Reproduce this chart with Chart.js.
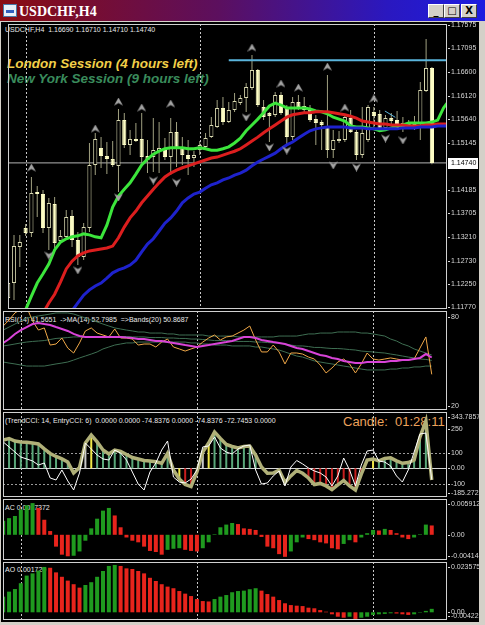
<!DOCTYPE html>
<html>
<head>
<meta charset="utf-8">
<script src="https://cdn.jsdelivr.net/npm/chart.js@4/dist/chart.umd.min.js"></script>
<style>
  body { margin: 0; background: #d4d0c8; }
  #win { position: relative; width: 485px; height: 625px; overflow: hidden; background: #d4d0c8;
         font-family: "Liberation Sans", Arial, sans-serif; }
  #title { position: absolute; left: 0; top: 0; width: 485px; height: 21px;
           background: linear-gradient(to right, #8a0c12 0%, #5c0f5e 45%, #2a18c0 80%, #1c1ce0 100%); }
  #title .txt { position: absolute; left: 19px; top: 4px; color: #fff; line-height: 14px;
                font: bold 14px "Liberation Serif", serif; }
  #icon { position: absolute; left: 3px; top: 4px; width: 12px; height: 11px; background: #e8f0f8;
          border: 1px solid #4878a8; }
  #icon i { position: absolute; left: 2px; top: 5px; width: 8px; height: 3px; background: #3060c0; }
  .btn { position: absolute; top: 4px; width: 14px; height: 12px; background: #d4d0c8; color: #000;
         border: 1px solid; border-color: #fff #404040 #404040 #fff;
         font: bold 10px "DejaVu Sans", sans-serif; text-align: center; line-height: 12px; }
  #board { position: absolute; left: 1px; top: 22px; width: 478px; height: 600px; background: #000; }
  canvas { position: absolute; }
  .lbl { position: absolute; white-space: pre; font-size: 7px; line-height: 7px; color: #e8e8e8; }
  .big { position: absolute; white-space: pre; font: italic bold 13.5px "Liberation Sans", Arial, sans-serif; line-height: 13px; }
</style>
</head>
<body>
<div id="win">
  <div id="title"><div id="icon"><i></i></div><div class="txt">USDCHF,H4</div>
    <div class="btn" style="left:428px">_</div>
    <div class="btn" style="left:444px">&#9633;</div>
    <div class="btn" style="left:461px">X</div>
  </div>
  <div id="board"></div>
  <div class="lbl" style="left:5px;top:26px">USDCHF,H4  1.16690 1.16710 1.14710 1.14740</div>
  <div class="big" style="left:7px;top:57px;color:#f2cf48">London Session (4 hours left)</div>
  <div class="big" style="left:7px;top:72px;color:#3a8c5c">New York Session (9 hours left)</div>
  <div class="lbl" style="left:5px;top:316px">RSI(14) 41.5651  -&gt;MA(14) 52.7985  =&gt;Bands(20) 50.8687</div>
  <div class="lbl" style="left:5px;top:417px">(TrendCCI: 14, EntryCCI: 6)  0.0000 0.0000 -74.8376 0.0000 -74.8376 -72.7453 0.0000</div>
  <div class="big" style="left:343px;top:415px;color:#eca25c;font-style:normal;font-weight:normal;font-size:13px">Candle:  01:28:11</div>
  <div class="lbl" style="left:5px;top:504px">AC 0.0017372</div>
  <div class="lbl" style="left:5px;top:566px">AO 0.001720</div>
</div>
<script>
// ---- price candles (H4 bars, oldest first) ----
const opens = [1.11962, 1.12271, 1.13011, 1.13401, 1.13299, 1.14142, 1.14100, 1.13401, 1.13895, 1.13134,
  1.13216, 1.13648, 1.13155, 1.12805, 1.13401, 1.14697, 1.15046, 1.14882, 1.14820, 1.14676,
  1.15622, 1.15108, 1.15231, 1.15231, 1.14882, 1.14861, 1.14964, 1.15046, 1.14861, 1.15375,
  1.15046, 1.14902, 1.14841, 1.15005, 1.15067, 1.15272, 1.15478, 1.15868, 1.15581, 1.15827,
  1.15971, 1.16074, 1.16280, 1.16650, 1.15889, 1.15766, 1.15725, 1.16136, 1.15889, 1.15272,
  1.15992, 1.15910, 1.15868, 1.15642, 1.15581, 1.15498, 1.15005, 1.15190, 1.15211, 1.15663,
  1.15375, 1.14902, 1.15211, 1.15786, 1.15745, 1.15457, 1.15663, 1.15622, 1.15478, 1.15478,
  1.15581, 1.15560, 1.16218, 1.16690];
const highs = [1.12641, 1.13257, 1.13257, 1.13484, 1.14450, 1.14265, 1.14183, 1.14018, 1.14039, 1.13360,
  1.13771, 1.13771, 1.13319, 1.13504, 1.15149, 1.15355, 1.15272, 1.15169, 1.15190, 1.15848,
  1.15766, 1.15416, 1.15560, 1.15766, 1.15211, 1.15663, 1.15581, 1.15252, 1.15663, 1.15581,
  1.15272, 1.15211, 1.14985, 1.15190, 1.15355, 1.15683, 1.16033, 1.16095, 1.15992, 1.16177,
  1.16136, 1.16382, 1.16958, 1.16670, 1.16033, 1.15786, 1.16197, 1.16197, 1.15930, 1.16095,
  1.16136, 1.16095, 1.15930, 1.15725, 1.15622, 1.16547, 1.15416, 1.15396, 1.15745, 1.15827,
  1.15416, 1.15889, 1.15930, 1.15889, 1.15827, 1.15725, 1.15766, 1.15807, 1.15683, 1.15622,
  1.15704, 1.16403, 1.17287, 1.16710];
const lows = [1.11859, 1.11921, 1.12600, 1.13237, 1.13216, 1.13628, 1.13299, 1.12949, 1.12990, 1.13093,
  1.13155, 1.13011, 1.12641, 1.12743, 1.13319, 1.14491, 1.14635, 1.14512, 1.14655, 1.14142,
  1.15046, 1.14902, 1.15169, 1.14738, 1.14532, 1.14553, 1.14532, 1.14799, 1.14491, 1.14655,
  1.14697, 1.14491, 1.14655, 1.14902, 1.15046, 1.15252, 1.15457, 1.15519, 1.15560, 1.15786,
  1.15930, 1.15786, 1.16239, 1.15889, 1.15622, 1.15169, 1.15683, 1.15725, 1.15108, 1.15211,
  1.15827, 1.15766, 1.15581, 1.15108, 1.15005, 1.14841, 1.14841, 1.15149, 1.15169, 1.15355,
  1.14799, 1.14841, 1.15169, 1.15478, 1.15375, 1.15416, 1.15519, 1.15416, 1.15375, 1.15457,
  1.15416, 1.15211, 1.16197, 1.14710];
const closes = [1.12271, 1.13031, 1.13114, 1.13299, 1.14121, 1.14100, 1.13401, 1.13915, 1.13093, 1.13237,
  1.13628, 1.13155, 1.12805, 1.13422, 1.14697, 1.15231, 1.14882, 1.14820, 1.14697, 1.15622,
  1.15108, 1.15231, 1.15190, 1.14861, 1.14799, 1.15005, 1.15046, 1.14861, 1.15375, 1.15046,
  1.14902, 1.14820, 1.14902, 1.15108, 1.15252, 1.15519, 1.15868, 1.15581, 1.15827, 1.16012,
  1.16074, 1.16300, 1.16650, 1.15930, 1.15683, 1.15704, 1.16136, 1.15766, 1.15272, 1.15992,
  1.15889, 1.15827, 1.15622, 1.15560, 1.15519, 1.15005, 1.15211, 1.15231, 1.15683, 1.15375,
  1.14902, 1.15355, 1.15889, 1.15704, 1.15416, 1.15663, 1.15601, 1.15457, 1.15560, 1.15540,
  1.15519, 1.16239, 1.16690, 1.14740];

// alligator lines (shifted forward, so they run past the last bar)
const lips = [1.1100, 1.1120, 1.1147, 1.1172, 1.1200, 1.1227, 1.1246, 1.1266, 1.1295, 1.1311,
  1.1318, 1.1322, 1.1324, 1.1328, 1.1326, 1.1322, 1.1320, 1.1346, 1.1383, 1.1406,
  1.1420, 1.1433, 1.1451, 1.1470, 1.1482, 1.1492, 1.1498, 1.1503, 1.1505, 1.1505,
  1.1505, 1.1503, 1.1503, 1.1505, 1.1503, 1.1500, 1.1500, 1.1503, 1.1507, 1.1515,
  1.1525, 1.1540, 1.1552, 1.1564, 1.1577, 1.1591, 1.1597, 1.1593, 1.1587, 1.1587,
  1.1587, 1.1587, 1.1585, 1.1581, 1.1579, 1.1575, 1.1568, 1.1564, 1.1560, 1.1550,
  1.1548, 1.1548, 1.1546, 1.1544, 1.1540, 1.1542, 1.1546, 1.1550, 1.1552, 1.1556,
  1.1556, 1.1556, 1.1556, 1.1558, 1.1562, 1.1587, 1.1603];
const teeth = [1.1069, 1.1089, 1.1106, 1.1122, 1.1139, 1.1153, 1.1165, 1.1186, 1.1204, 1.1229,
  1.1256, 1.1272, 1.1283, 1.1289, 1.1293, 1.1295, 1.1297, 1.1299, 1.1303, 1.1320,
  1.1342, 1.1361, 1.1375, 1.1392, 1.1406, 1.1420, 1.1433, 1.1445, 1.1453, 1.1459,
  1.1464, 1.1468, 1.1472, 1.1476, 1.1480, 1.1484, 1.1486, 1.1490, 1.1494, 1.1498,
  1.1503, 1.1511, 1.1519, 1.1527, 1.1536, 1.1544, 1.1552, 1.1560, 1.1568, 1.1573,
  1.1575, 1.1577, 1.1577, 1.1579, 1.1579, 1.1579, 1.1577, 1.1575, 1.1573, 1.1570,
  1.1566, 1.1560, 1.1558, 1.1556, 1.1554, 1.1554, 1.1552, 1.1552, 1.1552, 1.1550,
  1.1550, 1.1550, 1.1552, 1.1552, 1.1554, 1.1554, 1.1554];
const jaw = [1.1028, 1.1044, 1.1059, 1.1073, 1.1089, 1.1104, 1.1118, 1.1130, 1.1141, 1.1151,
  1.1159, 1.1170, 1.1186, 1.1202, 1.1213, 1.1221, 1.1227, 1.1237, 1.1248, 1.1254,
  1.1258, 1.1264, 1.1274, 1.1291, 1.1307, 1.1318, 1.1334, 1.1350, 1.1361, 1.1375,
  1.1392, 1.1402, 1.1410, 1.1414, 1.1422, 1.1429, 1.1433, 1.1439, 1.1443, 1.1449,
  1.1453, 1.1459, 1.1468, 1.1476, 1.1482, 1.1488, 1.1494, 1.1503, 1.1511, 1.1517,
  1.1525, 1.1533, 1.1540, 1.1544, 1.1546, 1.1548, 1.1548, 1.1548, 1.1548, 1.1546,
  1.1546, 1.1546, 1.1544, 1.1544, 1.1544, 1.1544, 1.1544, 1.1544, 1.1546, 1.1546,
  1.1546, 1.1548, 1.1548, 1.1548, 1.1550, 1.1550, 1.1550];

// fractal arrows
const fractalUpBars = [4, 15, 19, 23, 28, 42, 47, 50, 55, 58, 63];
const fractalUpPrices = [1.14635, 1.15437, 1.15992, 1.15868, 1.15951, 1.17102, 1.16362, 1.16280, 1.16711, 1.15868, 1.16054];
const fractalDownBars = [7, 12, 19, 25, 29, 41, 45, 48, 56, 60, 65, 68];
const fractalDownPrices = [1.12846, 1.12538, 1.14039, 1.14388, 1.14347, 1.15684, 1.15067, 1.15005, 1.14697, 1.14655, 1.15252, 1.15211];

// drawn objects
const resistBars = [38, 76];
const resistPrices = [1.1685, 1.1685];
const trendBars = [64.9, 66.7];
const trendPrices = [1.15807, 1.15677];
const bidPrice = 1.14740;
const priceTicks = [1.17575, 1.17095, 1.16600, 1.16120, 1.15640, 1.15145, 1.14185, 1.13705, 1.13210, 1.12730, 1.12250, 1.11770];
const separators = [3, 33, 63];

// RSI pane
const rsi = [73.8, 77.8, 82.5, 85, 86.5, 77.1, 71.1, 72.5, 61.1, 61.8,
  65.8, 59.1, 55.8, 62.5, 70.5, 72.5, 69.1, 67.8, 66.5, 71.8,
  65.8, 65.8, 65.1, 61.1, 61.8, 61.8, 59.8, 63.1, 65.1, 59.8,
  58.5, 57.1, 58.5, 59.8, 63.1, 65.8, 67.8, 64.5, 66.5, 67.1,
  69.1, 71.1, 73.8, 64.5, 56.5, 56.5, 61.1, 56.5, 48.5, 55.8,
  55.8, 55.1, 53.1, 51.8, 47.8, 42.5, 45.8, 49.8, 51.8, 48.5,
  42.5, 48.5, 55.8, 51.8, 51.1, 51.8, 52.5, 51.8, 51.1, 51.1,
  51.8, 59.1, 66.5, 41.57];
const rsiMa = [62.5, 65.1, 68.5, 71.1, 73.1, 75.1, 75.8, 75.1, 74.5, 73.1,
  71.8, 70.5, 68.5, 67.1, 66.5, 66.5, 66.5, 66.5, 66.5, 66.5,
  66.5, 66.1, 65.8, 65.1, 65.1, 64.5, 63.8, 63.8, 63.1, 62.5,
  61.8, 61.1, 60.5, 59.8, 60.5, 61.1, 61.8, 62.5, 63.1, 63.8,
  65.1, 66.5, 66.5, 65.8, 64.5, 63.8, 63.1, 62.5, 61.8, 60.5,
  59.1, 58.5, 57.1, 55.8, 54.5, 53.8, 52.5, 51.8, 50.5, 49.8,
  49.1, 49.1, 49.8, 49.8, 49.8, 49.8, 50.5, 50.5, 51.1, 51.1,
  51.8, 52.5, 55.1, 52.80];
const bandUpper = [71.1, 73.1, 75.1, 77.1, 79.1, 79.8, 80.5, 81.1, 81.8, 82.5,
  82.5, 82.5, 81.8, 80.5, 79.1, 77.8, 76.5, 75.1, 73.8, 72.5,
  71.8, 71.1, 70.5, 69.8, 69.8, 69.1, 69.1, 69.1, 68.5, 68.5,
  67.8, 67.8, 67.8, 67.8, 67.8, 67.1, 67.1, 67.1, 67.1, 67.1,
  66.5, 66.5, 66.5, 66.5, 66.5, 66.5, 66.5, 67.1, 67.1, 67.1,
  67.1, 67.8, 68.5, 68.5, 69.1, 69.1, 69.1, 69.8, 69.8, 69.8,
  69.8, 69.1, 69.1, 68.5, 67.8, 67.1, 65.1, 63.8, 61.8, 60.5,
  58.5, 57.1, 55.8, 54.5];
const bandMiddle = [60.5, 61.1, 61.8, 62.5, 63.1, 63.5, 63.8, 64.1, 64.8, 65.5,
  65.8, 66.1, 66.5, 66.5, 66.5, 66.5, 66.5, 66.8, 66.8, 66.8,
  66.8, 66.8, 66.5, 66.5, 66.5, 66.1, 66.1, 66.1, 65.8, 65.8,
  65.5, 65.5, 65.1, 65.1, 64.8, 64.5, 64.1, 64.1, 64.1, 63.8,
  63.5, 63.5, 63.5, 63.1, 63.1, 62.8, 62.5, 62.5, 61.8, 61.1,
  60.5, 60.5, 60.1, 59.5, 59.5, 59.1, 58.8, 58.8, 58.5, 58.1,
  57.8, 57.1, 56.8, 56.5, 56.1, 55.8, 55.1, 54.5, 53.8, 53.1,
  52.5, 51.8, 51.5, 50.87];
const bandLower = [49.8, 49.1, 48.5, 47.8, 47.1, 47.1, 47.1, 47.1, 47.8, 48.5,
  49.1, 49.8, 51.1, 52.5, 53.8, 55.1, 56.5, 58.5, 59.8, 61.1,
  61.8, 62.5, 62.5, 63.1, 63.1, 63.1, 63.1, 63.1, 63.1, 63.1,
  63.1, 63.1, 62.5, 62.5, 61.8, 61.8, 61.1, 61.1, 61.1, 60.5,
  60.5, 60.5, 60.5, 59.8, 59.8, 59.1, 58.5, 57.8, 56.5, 55.1,
  53.8, 53.1, 51.8, 50.5, 49.8, 49.1, 48.5, 47.8, 47.1, 46.5,
  45.8, 45.1, 44.5, 44.5, 44.5, 44.5, 45.1, 45.1, 45.8, 45.8,
  46.5, 46.5, 47.1, 47.1];
const rsiTicks = [80, 20];

// TrendCCI pane
const cciTrend = [181, 191, 175, 169, 167, 162, 156, 124, 95, 76,
  60, 40, -30, 5, 162, 213, 169, 117, 92, 117,
  108, 88, 69, 60, 50, 47, 42, 32, 96, -11,
  -69, -104, -117, -24, 104, 162, 233, 191, 153, 140,
  130, 140, 143, 85, 8, -32, -30, -11, -91, -49,
  -14, -32, -62, -104, -97, -113, -136, -107, -78, -113,
  -139, -37, 53, 60, 47, 63, 67, 48, 32, 37,
  53, 201, 303, -74.84];
const cciEntry = [169, 137, 104, 72, 60, 47, 21, 34, -62, -75,
  -11, -81, -139, -30, 162, 124, 85, 60, 53, 117,
  98, 53, -24, -101, -139, -24, 34, 117, 175, -56,
  -88, -94, -69, -11, 137, 143, 201, 130, 104, 92,
  124, 143, 149, -11, -101, -94, -49, -17, -113, 8,
  50, 28, 2, -17, -30, -56, -113, -49, 66, -11,
  -113, 21, 111, 117, 47, 40, 15, -49, -88, -11,
  104, 220, 226, -72.75];
const cciState = ['up','up','up','up','up','up','up','up','up','up',
  'up','up','none','none','flip','entry','up','up','up','up',
  'up','up','up','up','up','up','up','up','up','none',
  'entry','down','down','down','flip','entry','up','up','up','up',
  'up','up','up','up','none','none','none','none','none','none',
  'none','none','down','down','down','down','down','down','down','down',
  'down','down','none','entry','up','up','up','up','up','up',
  'up','up','up','none'];
const cciTicks = [343.7857, 250, 100, 0, -100, -185.272];
const cciTickLabels = ['343.7857', '250', '100', '0.00', '-100', '-185.272'];

// Accelerator / Awesome oscillators
const acValues = [0.0026, 0.0031, 0.0035, 0.0047, 0.0055, 0.0059, 0.0050, 0.0028, 0.0007, -0.0022,
  -0.0037, -0.0040, -0.0039, -0.0031, -0.0011, 0.0012, 0.0030, 0.0045, 0.0050, 0.0036,
  0.0014, -0.0005, -0.0011, -0.0014, -0.0022, -0.0030, -0.0032, -0.0037, -0.0028, -0.0026,
  -0.0025, -0.0028, -0.0030, -0.0031, -0.0025, -0.0014, 0.0001, 0.0014, 0.0019, 0.0022,
  0.0020, 0.0012, 0.0011, 0.0009, -0.0004, -0.0022, -0.0025, -0.0036, -0.0041, -0.0031,
  -0.0014, -0.0005, -0.0008, -0.0010, -0.0014, -0.0016, -0.0025, -0.0027, -0.0017, -0.0010,
  -0.0014, -0.0005, 0.0003, 0.0009, 0.0008, 0.0011, 0.0009, 0.0003, -0.0005, -0.0008,
  -0.0005, 0.0001, 0.0019, 0.0017372];
const aoValues = [0.0078, 0.0103, 0.0116, 0.0145, 0.0183, 0.0194, 0.0208, 0.0226, 0.0222, 0.0199,
  0.0177, 0.0158, 0.0140, 0.0123, 0.0136, 0.0150, 0.0177, 0.0206, 0.0231, 0.0236,
  0.0231, 0.0219, 0.0216, 0.0206, 0.0194, 0.0172, 0.0156, 0.0140, 0.0128, 0.0120,
  0.0106, 0.0093, 0.0081, 0.0066, 0.0056, 0.0054, 0.0066, 0.0078, 0.0086, 0.0100,
  0.0106, 0.0108, 0.0115, 0.0120, 0.0108, 0.0091, 0.0078, 0.0061, 0.0045, 0.0036,
  0.0033, 0.0031, 0.0023, 0.0020, 0.0011, 0.0003, -0.0010, -0.0022, -0.0027, -0.0022,
  -0.0033, -0.0027, -0.0022, -0.0013, -0.0010, -0.0008, -0.0005, -0.0006, -0.0010, -0.0013,
  -0.0010, -0.0002, 0.0007, 0.00172];
const acTicks = [0.005912, 0, -0.00414];
const acTickLabels = ['0.005912', '0.00', '-0.00414'];
const aoTicks = [0.023575, 0, -0.00422];
const aoTickLabels = ['0.023575', '0.00', '-0.00422'];

// ---- drawing ----
const AXIS_W = 32, PAD = 6;
const X_MIN = -0.034, X_MAX = 75.6;

const mtPlugin = {
  id: 'mt',
  beforeDatasetsDraw(chart, args, o) {
    const {ctx, chartArea: a, scales} = chart;
    ctx.save();
    ctx.beginPath();
    ctx.rect(a.left, a.top, a.right - a.left, a.bottom - a.top);
    ctx.clip();
    ctx.lineWidth = 1;
    (o.levels || []).forEach(lv => {
      const py = Math.round(scales.y.getPixelForValue(lv.value)) + 0.5;
      ctx.strokeStyle = lv.color;
      ctx.setLineDash(lv.dash || []);
      ctx.beginPath(); ctx.moveTo(a.left, py); ctx.lineTo(a.right, py); ctx.stroke();
    });
    ctx.strokeStyle = '#c8c8c8';
    ctx.setLineDash([2, 2]);
    separators.forEach(s => {
      const px = Math.round(scales.x.getPixelForValue(s)) + 0.5;
      ctx.beginPath(); ctx.moveTo(px, a.top); ctx.lineTo(px, a.bottom); ctx.stroke();
    });
    ctx.restore();
  },
  afterDraw(chart, args, o) {
    const {ctx, chartArea: a, scales} = chart;
    ctx.save();
    ctx.strokeStyle = '#d0d0d0';
    ctx.lineWidth = 1;
    ctx.strokeRect(a.left + 0.5, a.top + 0.5, a.right - a.left - 1, a.bottom - a.top - 1);
    ctx.font = '7px "Liberation Sans", Arial, sans-serif';
    ctx.textBaseline = 'middle';
    (o.ticks || []).forEach((v, k) => {
      let py = scales.y.getPixelForValue(v);
      if (o.clamp) py = Math.min(Math.max(py, a.top + o.clamp), a.bottom - o.clamp + 1);
      const txt = o.labels ? o.labels[k] : String(v);
      ctx.fillStyle = '#d8d8d8';
      ctx.fillRect(a.right + 1, Math.round(py), 2, 1);
      ctx.fillText(txt, a.right + 4, py);
    });
    if (o.box != null) {
      const py = Math.round(scales.y.getPixelForValue(o.box));
      ctx.fillStyle = '#fff';
      ctx.fillRect(a.right + 1, py - 5, 30, 11);
      ctx.fillStyle = '#000';
      ctx.fillText(o.box.toFixed(5), a.right + 4, py + 0.5);
    }
    ctx.restore();
  }
};

function pane(top, bottom, yMin, yMax, datasets, axis) {
  const cv = document.createElement('canvas');
  cv.width = 444 + AXIS_W;
  cv.height = bottom - top + PAD * 2;
  cv.style.left = '3px';
  cv.style.top = (top - PAD) + 'px';
  document.getElementById('win').appendChild(cv);
  return new Chart(cv, {
    type: 'bar',
    data: { datasets },
    options: {
      responsive: false, animation: false, devicePixelRatio: 1, events: [],
      layout: { padding: { left: 0, right: AXIS_W, top: PAD, bottom: PAD } },
      scales: {
        x: { type: 'linear', min: X_MIN, max: X_MAX, offset: false, bounds: 'data', display: false },
        y: { type: 'linear', min: yMin, max: yMax, bounds: 'data', beginAtZero: false, display: false }
      },
      plugins: { legend: { display: false }, tooltip: { enabled: false }, mt: axis }
    },
    plugins: [mtPlugin]
  });
}

const pts = arr => arr.map((v, i) => ({ x: i, y: v }));
const line = (arr, color, width, order) => ({
  type: 'line', data: pts(arr), borderColor: color, borderWidth: width,
  pointRadius: 0, tension: 0, order
});

function arrowImg(up) {
  const c = document.createElement('canvas');
  c.width = 9; c.height = 9;
  const g = c.getContext('2d');
  g.fillStyle = '#a4a4a4';
  g.beginPath();
  if (up) { g.moveTo(4.5, 0); g.lineTo(9, 8); g.lineTo(4.5, 5.5); g.lineTo(0, 8); }
  else { g.moveTo(4.5, 9); g.lineTo(9, 1); g.lineTo(4.5, 3.5); g.lineTo(0, 1); }
  g.closePath();
  g.fill();
  return c;
}

const bull = i => closes[i] >= opens[i];

// main price pane
pane(24, 309, 1.11736, 1.17596, [
  line(jaw, '#1e22cc', 3, 1),
  line(teeth, '#dc1e1e', 3, 1),
  line(lips, '#3ce63c', 3, 1),
  { type: 'line', data: resistBars.map((b, k) => ({ x: b, y: resistPrices[k] })),
    borderColor: '#5ab4dc', borderWidth: 2, pointRadius: 0, order: 0 },
  { type: 'line', data: trendBars.map((b, k) => ({ x: b, y: trendPrices[k] })),
    borderColor: '#5ab4dc', borderWidth: 1, pointRadius: 0, order: 0 },
  { type: 'line', data: [{ x: -1, y: bidPrice }, { x: 77, y: bidPrice }],
    borderColor: '#b4b4b4', borderWidth: 1, pointRadius: 0, order: 5 },
  { type: 'line', showLine: false, order: 0,
    data: fractalUpBars.map((b, k) => ({ x: b, y: fractalUpPrices[k] })),
    pointStyle: arrowImg(true), pointRadius: 4 },
  { type: 'line', showLine: false, order: 0,
    data: fractalDownBars.map((b, k) => ({ x: b, y: fractalDownPrices[k] })),
    pointStyle: arrowImg(false), pointRadius: 4 },
  { label: 'wick', data: highs.map((h, i) => ({ x: i, y: [lows[i], h] })),
    backgroundColor: '#a0a080', grouped: false, maxBarThickness: 1, order: 4 },
  { label: 'body', data: opens.map((o, i) => ({ x: i, y: [o, closes[i]] })),
    backgroundColor: c => bull(c.dataIndex) ? '#000000' : '#fcfcc4',
    borderColor: c => bull(c.dataIndex) ? '#d8d8b0' : '#fcfcc4',
    borderWidth: 1, borderSkipped: false, minBarLength: 1,
    grouped: false, maxBarThickness: 5, order: 3 }
], { ticks: priceTicks, labels: priceTicks.map(v => v.toFixed(5)), box: bidPrice });

// RSI pane
pane(311, 410, 17.8, 83.8, [
  line(bandUpper, '#3e6e52', 1, 3),
  line(bandMiddle, '#3e6e52', 1, 3),
  line(bandLower, '#3e6e52', 1, 3),
  line(rsi, '#f0a848', 1, 2),
  line(rsiMa, '#d844d8', 2, 1)
], { ticks: rsiTicks, labels: rsiTicks.map(String), clamp: 5 });

// TrendCCI pane
const cciColors = { up: '#5aa87a', down: '#c81e1e', entry: '#f0e848', flip: '#c8c8c8', none: 'rgba(0,0,0,0)' };
pane(412, 497, -184.0, 360.9, [
  { data: pts(cciTrend), backgroundColor: c => cciColors[cciState[c.dataIndex]],
    grouped: false, maxBarThickness: 2, order: 3 },
  line(cciTrend, '#b0b078', 3.5, 2),
  line(cciEntry, '#ffffff', 1, 1)
], { ticks: cciTicks, labels: cciTickLabels, clamp: 5,
     levels: [{ value: 100, color: '#9a9a9a', dash: [2, 2] },
              { value: -100, color: '#9a9a9a', dash: [2, 2] },
              { value: 0, color: '#d8d8d8' }] });

// AC / AO panes
const upDown = arr => c => (c.dataIndex === 0 || arr[c.dataIndex] >= arr[c.dataIndex - 1]) ? '#1f9a1f' : '#e8241c';
pane(499, 560, -0.004691, 0.006664, [
  { data: pts(acValues), backgroundColor: upDown(acValues), grouped: false, maxBarThickness: 4 }
], { ticks: acTicks, labels: acTickLabels, clamp: 5 });

pane(562, 620, -0.003838, 0.025075, [
  { data: pts(aoValues), backgroundColor: upDown(aoValues), grouped: false, maxBarThickness: 4 }
], { ticks: aoTicks, labels: aoTickLabels, clamp: 5 });
</script>
</body>
</html>
